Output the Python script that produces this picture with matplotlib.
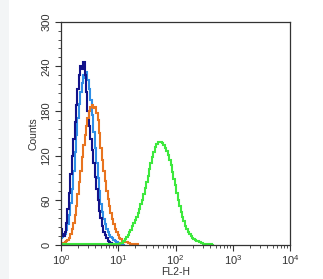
import matplotlib
matplotlib.use("Agg")
import matplotlib.pyplot as plt
from matplotlib.patches import Rectangle
from matplotlib.ticker import LogLocator, MultipleLocator

plt.rcParams['font.family'] = ['Liberation Sans', 'DejaVu Sans']

# log10 bin centres shared by all histograms (step 0.025 decades)
bins_log = [round(i * 0.025, 3) for i in range(0, 161)]

navy_counts = [22, 15, 12, 18, 30, 48, 70, 95, 120, 142, 165, 188, 210, 228, 240, 236, 246,
               228, 205, 180, 160, 142, 128, 110, 92, 75, 60, 46, 36, 26, 18, 13, 9, 6, 4, 3,
               2, 1, 1, 0, 0]
blue_counts = [10, 11, 12, 15, 20, 28, 40, 56, 75, 100, 125, 148, 170, 190, 205, 218, 228,
               225, 233, 222, 210, 195, 175, 152, 130, 110, 90, 72, 55, 44, 35, 28, 22, 18, 14,
               11, 9, 7, 5, 4, 3, 2, 1, 1, 0]
orange_counts = [2, 2, 3, 4, 5, 7, 10, 15, 22, 30, 40, 53, 68, 84, 100, 118, 135, 148, 160,
                 171, 180, 185, 188, 184, 185, 178, 168, 150, 130, 114, 100, 86, 72, 62, 52,
                 43, 35, 28, 22, 17, 13, 10, 8, 6, 5, 4, 4, 3, 3, 2, 2, 2, 1, 1, 0]
green_counts = [1, 1, 2, 1, 1, 2, 1, 1, 2, 1, 1, 2, 1, 1, 2, 1, 1, 2, 1, 2, 1, 1, 2, 1, 1, 2,
                1, 2, 1, 1, 2, 1, 2, 1, 1, 2, 1, 2, 1, 2, 2,
                2, 3, 3, 5, 8, 11, 14, 17, 20, 25, 30, 34, 38, 43, 49, 55, 61, 68, 76, 84, 93,
                102, 110, 118, 125, 131, 136, 139, 138, 139, 137, 134, 130, 126, 121, 114, 107,
                98, 89, 80, 70, 60, 52, 45, 38, 32, 26, 22, 18, 15, 12, 10, 8, 7, 6, 5, 4, 3,
                3, 2, 2, 2, 1, 1, 1, 0]

x_ticks = [1, 10, 100, 1000, 10000]
y_ticks = [0, 60, 120, 180, 240, 300]

fig = plt.figure(figsize=(3.23, 2.79), dpi=100)
fig.patch.set_facecolor('white')
fig.patches.append(Rectangle((0, 0), 9 / 323, 1, transform=fig.transFigure,
                             facecolor='#f3f5f6', edgecolor='none', zorder=0))
ax = fig.add_axes([61 / 323, 1 - 245 / 279, 229 / 323, (245 - 21.7) / 279])

series = [
    (blue_counts, '#2e8ee6'),
    (navy_counts, '#12128a'),
    (orange_counts, '#e8741f'),
    (green_counts, '#3de83d'),
]
for counts, color in series:
    xs = [10 ** v for v in bins_log[:len(counts)]]
    ax.plot(xs, counts, drawstyle='steps-mid', color=color, lw=1.5, solid_joinstyle='miter')

ax.set_xscale('log')
ax.set_xlim(1, 10000)
ax.set_ylim(0, 300)
ax.set_xticks(x_ticks)
ax.xaxis.set_minor_locator(LogLocator(base=10, subs=range(2, 10), numticks=20))
ax.set_yticks(y_ticks)
ax.yaxis.set_minor_locator(MultipleLocator(12))
ax.tick_params(axis='both', which='major', direction='out', length=4, width=0.8,
               labelsize=8, pad=2, colors='#333333', labelcolor='#333333')
ax.tick_params(axis='both', which='minor', direction='out', length=2.5, width=0.6, colors='#333333')
ax.tick_params(axis='y', labelrotation=90, pad=3)
for lbl in ax.get_yticklabels():
    lbl.set_va('center')
for s in ax.spines.values():
    s.set_linewidth(0.9)
    s.set_color('#333333')

ax.set_xlabel('FL2-H', fontsize=7.5, labelpad=0, color='#333333')
ax.set_ylabel('Counts', fontsize=7.5, labelpad=2, color='#333333')

fig.savefig('out.png', dpi=100)
